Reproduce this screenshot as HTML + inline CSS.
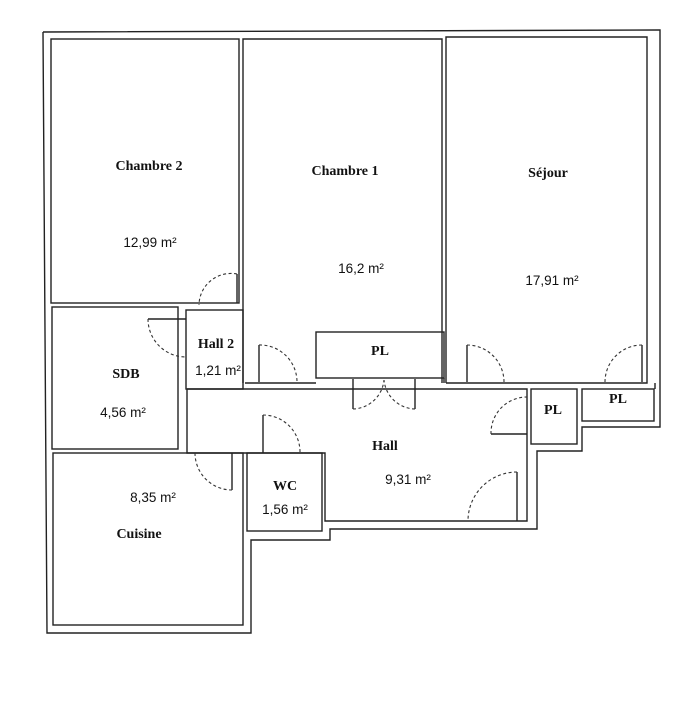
<!DOCTYPE html>
<html><head><meta charset="utf-8"><style>
html,body{margin:0;padding:0;background:#fff;}
svg{display:block}
.w{stroke:#222;stroke-width:1.4;fill:none}
.d{stroke:#333;stroke-width:1.1;fill:none;stroke-dasharray:3,2.5}
.s{font-family:"Liberation Serif",serif;font-size:14px;font-weight:bold;fill:#111}
.n{font-family:"Liberation Sans",sans-serif;font-size:13.5px;fill:#111}
</style></head><body>
<svg width="690" height="712" viewBox="0 0 690 712">
<polyline class="w" points="43,32 660,30 660,427 582,427 582,451 537,451 537,529 330,529 330,540 251,540 251,633 47,633 43,32"/>
<rect class="w" x="51" y="39" width="188" height="264"/>
<polyline class="w" points="243,383 243,39 442,39 442,383"/>
<rect class="w" x="316" y="332" width="128" height="46"/>
<polyline class="w" points="245,383 316,383"/>
<polyline class="w" points="446,383 446,37 647,37 647,383 446,383"/>
<polyline class="w" points="444,378 444,383"/>
<rect class="w" x="186" y="310" width="57" height="79"/>
<rect class="w" x="52" y="307" width="126" height="142"/>
<polyline class="w" points="187,389 527,389 527,521 325,521 325,453 187,453 187,389"/>
<rect class="w" x="53" y="453" width="190" height="172"/>
<rect class="w" x="247" y="453" width="75" height="78"/>
<rect class="w" x="531" y="389" width="46" height="55"/>
<rect class="w" x="582" y="389" width="72" height="32"/>
<polyline class="w" points="655,383 655,389"/>

<line class="w" x1="237" y1="274" x2="237" y2="303"/>
<path class="d" d="M237,274 A32,32 0 0 0 199,305"/>
<line class="w" x1="148" y1="319" x2="186" y2="319"/>
<path class="d" d="M148,319 A38,38 0 0 0 186,357"/>
<line class="w" x1="259" y1="345" x2="259" y2="382"/>
<path class="d" d="M259,345 A37,37 0 0 1 297,382"/>
<line class="w" x1="353" y1="379" x2="353" y2="409"/>
<line class="w" x1="415" y1="379" x2="415" y2="409"/>
<path class="d" d="M353,409 A32,32 0 0 0 384,380"/>
<path class="d" d="M415,409 A32,32 0 0 1 384,380"/>
<line class="w" x1="467" y1="345" x2="467" y2="382"/>
<path class="d" d="M467,345 A37,37 0 0 1 504,382"/>
<line class="w" x1="642" y1="345" x2="642" y2="382"/>
<path class="d" d="M642,345 A37,37 0 0 0 605,382"/>
<line class="w" x1="491" y1="434" x2="527" y2="434"/>
<path class="d" d="M491,434 A36,36 0 0 1 527,397"/>
<line class="w" x1="517" y1="472" x2="517" y2="521"/>
<path class="d" d="M517,472 A49,49 0 0 0 468,520"/>
<line class="w" x1="263" y1="415" x2="263" y2="453"/>
<path class="d" d="M263,415 A37,37 0 0 1 300,453"/>
<line class="w" x1="232" y1="453" x2="232" y2="490"/>
<path class="d" d="M232,490 A37,37 0 0 1 195,453"/>

<text class="s" x="149" y="170" text-anchor="middle">Chambre 2</text>
<text class="n" x="150" y="247" text-anchor="middle">12,99 m²</text>
<text class="s" x="345" y="175" text-anchor="middle">Chambre 1</text>
<text class="n" x="361" y="273" text-anchor="middle">16,2 m²</text>
<text class="s" x="548" y="177" text-anchor="middle">Séjour</text>
<text class="n" x="552" y="285" text-anchor="middle">17,91 m²</text>
<text class="s" x="380" y="355" text-anchor="middle">PL</text>
<text class="s" x="216" y="348" text-anchor="middle">Hall 2</text>
<text class="n" x="218" y="375" text-anchor="middle">1,21 m²</text>
<text class="s" x="126" y="378" text-anchor="middle">SDB</text>
<text class="n" x="123" y="417" text-anchor="middle">4,56 m²</text>
<text class="s" x="385" y="450" text-anchor="middle">Hall</text>
<text class="n" x="408" y="484" text-anchor="middle">9,31 m²</text>
<text class="s" x="285" y="490" text-anchor="middle">WC</text>
<text class="n" x="285" y="514" text-anchor="middle">1,56 m²</text>
<text class="n" x="153" y="502" text-anchor="middle">8,35 m²</text>
<text class="s" x="139" y="538" text-anchor="middle">Cuisine</text>
<text class="s" x="553" y="414" text-anchor="middle">PL</text>
<text class="s" x="618" y="403" text-anchor="middle">PL</text>
</svg>
</body></html>
